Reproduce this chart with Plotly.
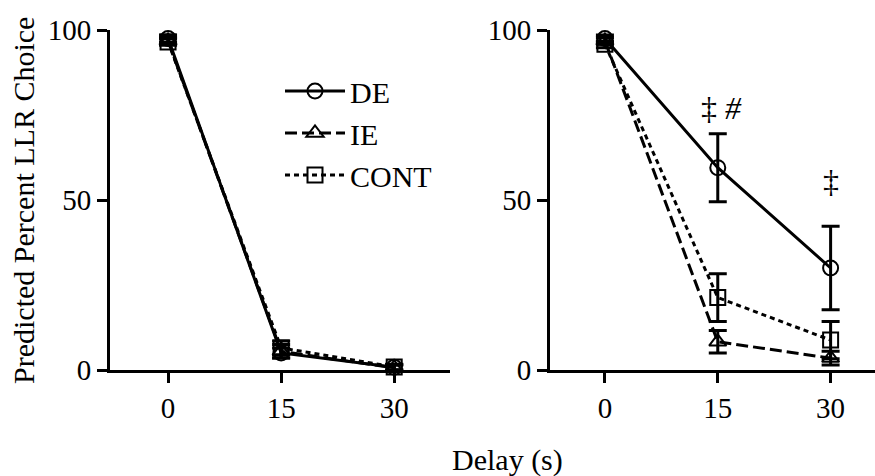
import plotly.graph_objects as go

delays = [0, 15, 30]
series_names = ["DE", "IE", "CONT"]

# Left panel
left_DE = [97.5, 5.0, 0.8]
left_DE_err = [1.0, 1.5, 0.8]
left_IE = [96.8, 5.5, 0.6]
left_IE_err = [1.0, 2.0, 0.8]
left_CONT = [96.5, 6.5, 0.9]
left_CONT_err = [1.0, 2.0, 0.8]

# Right panel
right_DE = [97.5, 59.5, 30.0]
right_DE_err = [1.0, 10.0, 12.3]
right_IE = [96.8, 8.3, 3.5]
right_IE_err = [1.0, 3.3, 2.0]
right_CONT = [95.8, 21.3, 8.8]
right_CONT_err = [1.0, 7.0, 5.5]

annot_x = [15, 30]
annot_y = [77, 55.5]
annot_text = ["‡ <i>#</i>", "‡"]
annot_xshift = [4, 0]

y_ticks = [0, 50, 100]
x_ticks = [0, 15, 30]

FONT = "Liberation Serif, Times New Roman, serif"
W, H = 875, 476

styles = {
    "DE": dict(dash="solid", symbol="circle-open"),
    "IE": dict(dash="12px,5px", symbol="triangle-up-open"),
    "CONT": dict(dash="5px,4px", symbol="square-open"),
}

fig = go.Figure()

def add(xa, ya, name, vals, errs, show):
    st = styles[name]
    fig.add_trace(go.Scatter(
        x=delays, y=vals, name=name, mode="lines+markers",
        xaxis=xa, yaxis=ya, showlegend=show, cliponaxis=False,
        line=dict(color="black", width=3, dash=st["dash"]),
        marker=dict(symbol=st["symbol"], size=15, color="black",
                    line=dict(color="black", width=2)),
        error_y=dict(type="data", array=errs, visible=True,
                     color="black", thickness=3, width=9),
    ))

add("x", "y", "DE", left_DE, left_DE_err, True)
add("x", "y", "IE", left_IE, left_IE_err, True)
add("x", "y", "CONT", left_CONT, left_CONT_err, True)
add("x2", "y2", "DE", right_DE, right_DE_err, False)
add("x2", "y2", "IE", right_IE, right_IE_err, False)
add("x2", "y2", "CONT", right_CONT, right_CONT_err, False)

y_dom = [(H - 370) / H, (H - 30) / H]

def xaxis(domain, rng, anchor):
    return dict(domain=domain, range=rng, anchor=anchor,
                tickvals=x_ticks, ticktext=[str(v) for v in x_ticks],
                showline=True, linecolor="black", linewidth=3,
                ticks="outside", ticklen=10, tickwidth=3, tickcolor="black",
                showgrid=False, zeroline=False,
                tickfont=dict(family=FONT, size=29, color="black"))

def yaxis(domain, anchor):
    return dict(domain=domain, range=[0, 100], anchor=anchor,
                tickvals=y_ticks, ticktext=[str(v) for v in y_ticks],
                showline=True, linecolor="black", linewidth=3,
                ticks="outside", ticklen=10, tickwidth=3, tickcolor="black",
                showgrid=False, zeroline=False,
                tickfont=dict(family=FONT, size=29, color="black"))

annotations = []
for xv, yv, t, xs in zip(annot_x, annot_y, annot_text, annot_xshift):
    annotations.append(dict(x=xv, y=yv, xref="x2", yref="y2", text=t,
                            showarrow=False, xanchor="center", yanchor="middle",
                            xshift=xs,
                            font=dict(family=FONT, size=32, color="black")))
annotations.append(dict(x=507 / W, y=(H - 460) / H, xref="paper", yref="paper",
                        text="Delay (s)", showarrow=False,
                        xanchor="center", yanchor="middle",
                        font=dict(family=FONT, size=30, color="black")))
annotations.append(dict(x=23 / W, y=(H - 201) / H, xref="paper", yref="paper",
                        text="Predicted Percent LLR Choice", showarrow=False,
                        textangle=-90, xanchor="center", yanchor="middle",
                        font=dict(family=FONT, size=30, color="black")))

fig.update_layout(
    width=W, height=H,
    margin=dict(l=0, r=0, t=0, b=0, autoexpand=False),
    paper_bgcolor="white", plot_bgcolor="white",
    xaxis=xaxis([110 / W, 450 / W], [-7.7, 37.4], "y"),
    yaxis=yaxis(y_dom, "x"),
    xaxis2=xaxis([550 / W, 1.0], [-7.3, 35.9], "y2"),
    yaxis2=yaxis(y_dom, "x2"),
    annotations=annotations,
    legend=dict(x=280 / W, y=(H - 65) / H, xanchor="left", yanchor="top",
                bgcolor="rgba(0,0,0,0)", itemwidth=60,
                font=dict(family=FONT, size=30, color="black"),
                tracegroupgap=0),
    showlegend=True,
)

fig.write_html("out.html", config={"displayModeBar": False},
               post_script="document.body.style.margin='0';document.body.style.padding='0';")
